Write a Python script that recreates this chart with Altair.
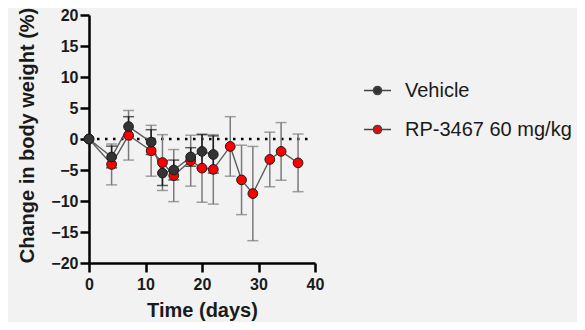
import altair as alt
import pandas as pd

# ---- data ----
series_names = ["Vehicle", "RP-3467 60 mg/kg"]

days_vehicle = [0, 4, 7, 11, 13, 15, 18, 20, 22]
vehicle_mean = [0, -2.9, 2.0, -0.5, -5.5, -5.0, -2.9, -2.0, -2.5]
vehicle_sd = [0, 1.75, 1.6, 2.0, 2.0, 1.6, 1.5, 2.7, 3.0]

days_rp = [0, 4, 7, 11, 13, 15, 18, 20, 22, 25, 27, 29, 32, 34, 37]
rp_mean = [0, -4.1, 0.6, -1.9, -3.8, -5.9, -3.5, -4.7, -4.9, -1.2, -6.6, -8.8, -3.3, -2.0, -3.85]
rp_sd = [0, 3.3, 4.0, 4.1, 4.5, 4.2, 4.1, 5.5, 5.6, 4.8, 5.6, 7.6, 4.4, 4.65, 4.65]

x_ticks = [0, 10, 20, 30, 40]
y_ticks = [-20, -15, -10, -5, 0, 5, 10, 15, 20]
zero_line = {"x": [0], "x2": [38.8], "y": [0]}

# ---- table ----
rows = []
for d, m, s in zip(days_rp, rp_mean, rp_sd):
    rows.append({"series": series_names[1], "day": d, "mean": m, "sd": s, "order": 0})
for d, m, s in zip(days_vehicle, vehicle_mean, vehicle_sd):
    rows.append({"series": series_names[0], "day": d, "mean": m, "sd": s, "order": 1})
df = pd.DataFrame(rows)

FONT = "Liberation Sans"

x_scale = alt.Scale(domain=[0, 40], nice=False)
x_enc = alt.X("day:Q", scale=x_scale,
              axis=alt.Axis(values=x_ticks, title="Time (days)", format="d",
                            titleX=113, titleY=37, labelOverlap=False, labelFlush=False))
y_scale = alt.Scale(domain=[-20, 20], nice=False)
y_axis = alt.Axis(values=y_ticks, title="Change in body weight (%)", format="d",
                  titleX=-52, titleY=120, labelOverlap=False, labelFlush=False,
                  tickCount=9)

base = alt.Chart(df).transform_calculate(
    lo="datum.mean - datum.sd", hi="datum.mean + datum.sd"
).transform_filter("datum.sd > 0")

zero = alt.Chart(pd.DataFrame(zero_line)).mark_rule(
    color="black", strokeDash=[2.5, 5.5], strokeWidth=2.5, strokeCap="butt"
).encode(x=alt.X("x:Q", scale=x_scale), x2="x2:Q", y=alt.Y("y:Q", scale=y_scale))

def errbars(name, color):
    b = base.transform_filter(alt.datum.series == name)
    rule = b.mark_rule(color=color, strokeWidth=1.5).encode(
        x=x_enc, y=alt.Y("lo:Q", scale=y_scale, axis=y_axis), y2="hi:Q")
    cap_lo = b.mark_tick(color=color, orient="horizontal", size=11, thickness=1.5).encode(
        x=x_enc, y=alt.Y("lo:Q", scale=y_scale))
    cap_hi = b.mark_tick(color=color, orient="horizontal", size=11, thickness=1.5).encode(
        x=x_enc, y=alt.Y("hi:Q", scale=y_scale))
    return rule + cap_lo + cap_hi

err_rp = errbars(series_names[1], "#7a7a7a")
err_v = errbars(series_names[0], "#1a1a1a")

lines = alt.Chart(df).mark_line(color="#5a5a5a", strokeWidth=1.4).encode(
    x=x_enc, y=alt.Y("mean:Q", scale=y_scale, axis=y_axis), detail="series:N",
    order="day:Q")

legend_symbol = ("M -0.3 0 A 0.3 0.3 0 1 0 0.3 0 A 0.3 0.3 0 1 0 -0.3 0 Z "
                 "M -1 0 L -0.3 0 M 0.3 0 L 1 0")

points = alt.Chart(df).mark_point(
    filled=True, size=95, stroke="#1a1a1a", strokeWidth=1, opacity=1, shape="circle"
).encode(
    x=x_enc, y=alt.Y("mean:Q", scale=y_scale, axis=y_axis),
    fill=alt.Fill("series:N",
                  scale=alt.Scale(domain=series_names, range=["#333333", "#ff0000"]),
                  legend=alt.Legend(title=None, orient="none", legendX=274, legendY=61,
                                    symbolType=legend_symbol, symbolSize=729,
                                    symbolStrokeColor="#444444", symbolStrokeWidth=1.5,
                                    labelFontSize=20, labelFont=FONT, labelColor="#1a1a1a",
                                    labelOffset=13, rowPadding=14, labelLimit=300)),
    order=alt.Order("order:Q"),
)

chart = alt.layer(zero, err_rp, err_v, lines, points).properties(
    width=226, height=248,
    autosize="none",
    padding={"left": 81, "top": 7, "right": 262, "bottom": 59},
    background="#f2f2f2",
).configure_view(stroke=None).configure_axis(
    domainColor="black", domainWidth=2.5, tickColor="black", tickWidth=2.5,
    tickSize=9, grid=False, labelFont=FONT, labelFontSize=16, labelFontWeight="bold",
    labelColor="#1a1a1a", titleFont=FONT, titleFontSize=20, titleFontWeight="bold",
    titleColor="#1a1a1a",
).configure_axisX(labelPadding=4).configure_axisY(labelPadding=2)

chart.save("out.html", embed_options={"renderer": "svg", "actions": False})
